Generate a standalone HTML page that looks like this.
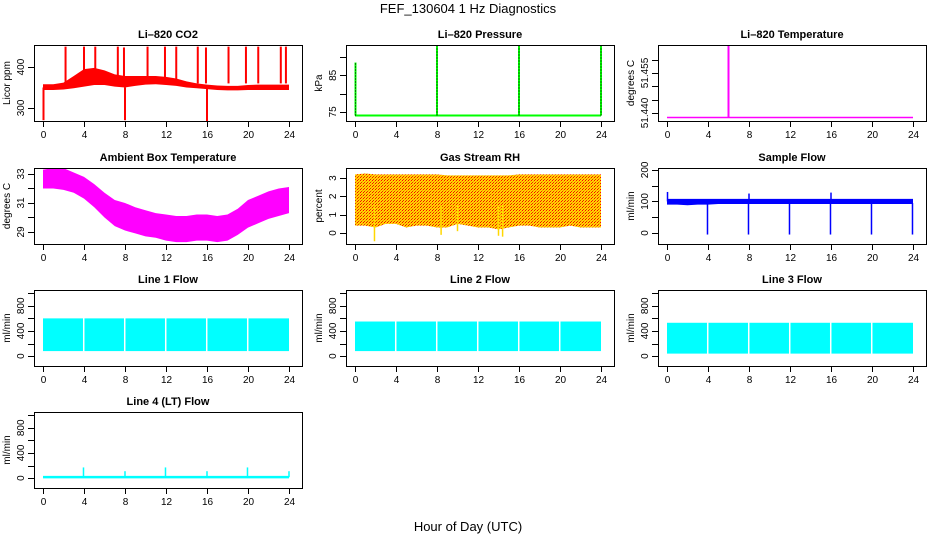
<!DOCTYPE html>
<html><head><meta charset="utf-8"><style>
html,body{margin:0;padding:0;background:#fff}
svg{display:block;font-family:"Liberation Sans",sans-serif}
</style></head><body>
<svg id="c" width="936" height="540" viewBox="0 0 936 540">
<defs>
<pattern id="rhpat" width="3" height="3" patternUnits="userSpaceOnUse"><rect width="3" height="3" fill="#ffd700"/><rect x="0" y="0" width="1" height="1" fill="#f00"/><rect x="2" y="1" width="1" height="1" fill="#ff8c00"/><rect x="1" y="2" width="1" height="1" fill="#e03000"/></pattern>
</defs>
<text x="468" y="13" text-anchor="middle" font-size="13">FEF_130604  1 Hz Diagnostics</text>
<text x="468" y="531" text-anchor="middle" font-size="13">Hour of Day (UTC)</text>
</svg>
<script>
const hours=[0,1,2,3,4,5,6,7,8,9,10,11,12,13,14,15,16,17,18,19,20,21,22,23,24];
const xTicks=[0,4,8,12,16,20,24];
// CO2
const co2Up=[358,358,362,378,395,398,392,382,378,378,378,378,376,372,365,360,357,355,354,354,356,357,357,357,357];
const co2Lo=[344,344,345,348,352,356,356,352,350,354,357,358,356,354,350,348,346,344,343,343,344,344,344,344,344];
const co2SpikeT=[2.2,4.0,5.1,7.3,7.9,10.2,11.9,13.0,15.1,15.9,18.1,19.8,21.0,23.2,23.7];
const co2SpikeV=[450,450,450,450,448,450,450,450,450,448,450,450,450,450,450];
const co2DipT=[0.05,8.0,16.0];
const co2DipV=[270,270,268];
// Pressure
const presBase=74.0;
const presSpikeT=[0.05,8.0,16.0,24.0];
const presSpikeV=[88.5,93,93,93];
// Li-820 temperature
const tempBase=51.4383;
const tempSpikeT=[6.0];
const tempSpikeV=[51.4655];
// Ambient
const ambUp=[33.3,33.4,33.4,33.1,32.8,32.3,31.7,31.2,31.0,30.7,30.5,30.3,30.2,30.1,30.1,30.2,30.2,30.1,30.2,30.6,31.2,31.5,31.8,32.0,32.1];
const ambLo=[32.0,32.0,31.9,31.7,31.3,30.7,30.0,29.4,29.1,28.9,28.7,28.6,28.4,28.3,28.3,28.4,28.4,28.3,28.4,28.8,29.3,29.6,29.9,30.1,30.3];
// RH
const rhUp=[3.2,3.25,3.2,3.2,3.2,3.2,3.2,3.2,3.2,3.15,3.15,3.15,3.15,3.15,3.15,3.15,3.2,3.2,3.2,3.2,3.2,3.2,3.2,3.2,3.2];
const rhLo=[0.4,0.4,0.3,0.5,0.5,0.3,0.4,0.4,0.3,0.3,0.5,0.4,0.3,0.3,0.2,0.3,0.4,0.4,0.3,0.3,0.3,0.4,0.3,0.3,0.3];
const rhDipT=[1.9,8.4,14.4,14.0,10.0];
const rhDipV=[-0.45,-0.1,-0.2,-0.15,0.1];
// Sample flow
const sfUp=[108,108,108,108,108,108,108,108,108,108,108,108,108,108,108,108,108,108,108,108,108,108,108,108,108];
const sfLo=[90,90,88,90,90,92,92,92,92,92,92,92,92,92,92,92,92,92,92,92,92,92,92,92,92];
const sfDipT=[3.95,7.95,11.95,15.95,19.95,23.95];
const sfDipV=[-5,-5,-5,-5,-5,-5];
const sfSpikeT=[0.05,8.0,16.0];
const sfSpikeV=[130,125,128];
// Line flows
const l1Up=600, l1Lo=80;
const l2Up=550, l2Lo=80;
const l3Up=530, l3Lo=40;
const lineGapT=[3.9,7.9,11.9,15.9,19.9];
const l4Base=15;
const l4SpikeT=[3.95,8.0,11.95,16.0,19.95,24.0];
const l4SpikeV=[170,110,170,110,170,110];

const svg=document.getElementById('c');
const NS='http://www.w3.org/2000/svg';
function mk(tag,attrs,parent){const e=document.createElementNS(NS,tag);for(const k in attrs)e.setAttribute(k,attrs[k]);(parent||svg).appendChild(e);return e;}
const colL=[34,346,658], rowT=[45,168,290,412], W=268, H=76;
function panel(name,col,row,title,ylab,ylim,yTicks,yLabels){
  const L=colL[col],T=rowT[row];
  const g=mk('g',{});
  
  
  const xs=v=>L+9+v/24*246;
  const ys=v=>T+H-(v-ylim[0])/(ylim[1]-ylim[0])*H;
  const t=mk('text',{x:L+W/2,y:T-7,'text-anchor':'middle','font-size':'11','font-weight':'bold'},g);t.textContent=title;
  
  
  const yl=mk('text',{transform:`translate(${L-24},${T+H/2}) rotate(-90)`,'text-anchor':'middle','font-size':'10'},g);yl.textContent=ylab;
  
  
  const ax=mk('g',{stroke:'#000','stroke-width':1},g);
  
  
  mk('line',{x1:xs(0),x2:xs(24),y1:T+H+0.5,y2:T+H+0.5},ax);
  xTicks.forEach(v=>{mk('line',{x1:xs(v)+0.5,x2:xs(v)+0.5,y1:T+H,y2:T+H+6},ax);
    const tx=mk('text',{x:xs(v)+0.5,y:T+H+17,'text-anchor':'middle','font-size':'10',stroke:'none'},g);tx.textContent=v;
    
    });
  yTicks.forEach(v=>{const y=Math.round(ys(v))+0.5;mk('line',{x1:L-6,x2:L,y1:y,y2:y},ax);});
  yLabels.forEach(v=>{const y=ys(v);const tx=mk('text',{transform:`translate(${L-10},${y}) rotate(-90)`,'text-anchor':'middle','font-size':'10'},g);tx.textContent=v;
    
    });
  const plot=mk('g',{},g);
  
  
  mk('rect',{x:L+0.5,y:T+0.5,width:W,height:H,fill:'none',stroke:'#000'},g);
  return {xs,ys,plot};
}
function band(p,up,lo,fill){
  let d='M'+hours.map((h,i)=>p.xs(h)+','+p.ys(up[i])).join('L')+'L'+hours.slice().reverse().map((h,i)=>p.xs(h)+','+p.ys(lo[hours.length-1-i])).join('L')+'Z';
  const e=mk('path',{d,fill,stroke:'none'},p.plot);
  
  
}
function rectBand(p,up,lo,fill,gaps){
  const e=mk('rect',{x:p.xs(0),y:p.ys(up),width:p.xs(24)-p.xs(0),height:p.ys(lo)-p.ys(up),fill},p.plot);
  
  
  (gaps||[]).forEach(t=>{mk('rect',{x:p.xs(t),y:p.ys(up)-2,width:1.5,height:p.ys(lo)-p.ys(up)+4,fill:'#fff'},p.plot);});
}
function spikes(p,T,V,base,col,w,dash){
  T.forEach((t,i)=>{const e=mk('line',{x1:p.xs(t),x2:p.xs(t),y1:p.ys(base),y2:p.ys(V[i]),stroke:col,'stroke-width':w||1.5},p.plot);
    if(dash)e.setAttribute('stroke-dasharray',dash);
    
    });
}
let p=panel('co2',0,0,'Li\u2013820 CO2','Licor ppm',[268,454],[300,400],[300,400]);
band(p,co2Up,co2Lo,'#f00');
spikes(p,co2SpikeT,co2SpikeV,360,'#f00',2);
spikes(p,co2DipT,co2DipV,350,'#f00',2);
p=panel('pressure',1,0,'Li\u2013820 Pressure','kPa',[72.5,93.3],[75,80,85,90],[75,85]);
mk('line',{x1:p.xs(0),x2:p.xs(24),y1:p.ys(presBase),y2:p.ys(presBase),stroke:'#0f0','stroke-width':2},p.plot);
spikes(p,presSpikeT,presSpikeV,presBase,'#0f0',2);
spikes(p,presSpikeT,presSpikeV,presBase,'#000',1,'1,2');
p=panel('li820-temp',2,0,'Li\u2013820 Temperature','degrees C',[51.437,51.4655],[51.440,51.445,51.450,51.455,51.460],['51.440','51.455']);
mk('line',{x1:p.xs(0),x2:p.xs(24),y1:p.ys(tempBase),y2:p.ys(tempBase),stroke:'#f0f','stroke-width':1.5},p.plot);
spikes(p,tempSpikeT,tempSpikeV,tempBase,'#f0f',2);
p=panel('ambient',0,1,'Ambient Box Temperature','degrees C',[28.17,33.41],[29,30,31,32,33],[29,31,33]);
band(p,ambUp,ambLo,'#f0f');
p=panel('rh',1,1,'Gas Stream RH','percent',[-0.6,3.55],[0,1,2,3],[0,1,2,3]);
band(p,rhUp,rhLo,'url(#rhpat)');
spikes(p,rhDipT,rhDipV,1.5,'#ffd700',1.5);
p=panel('sample-flow',2,1,'Sample Flow','ml/min',[-35,206],[0,50,100,150,200],[0,100,200]);
band(p,sfUp,sfLo,'#00f');
spikes(p,sfDipT,sfDipV,95,'#00f',1.5);
spikes(p,sfSpikeT,sfSpikeV,100,'#00f',1.5);
const lt=[0,200,400,600,800,1000], ll=[0,400,800], yl=[-157,1051];
p=panel('line1-flow',0,2,'Line 1 Flow','ml/min',yl,lt,ll); rectBand(p,l1Up,l1Lo,'#0ff',lineGapT);
p=panel('line2-flow',1,2,'Line 2 Flow','ml/min',yl,lt,ll); rectBand(p,l2Up,l2Lo,'#0ff',lineGapT);
p=panel('line3-flow',2,2,'Line 3 Flow','ml/min',yl,lt,ll); rectBand(p,l3Up,l3Lo,'#0ff',lineGapT);
p=panel('line4-flow',0,3,'Line 4 (LT) Flow','ml/min',yl,lt,ll);
mk('line',{x1:p.xs(0),x2:p.xs(24),y1:p.ys(l4Base),y2:p.ys(l4Base),stroke:'#0ff','stroke-width':2.5},p.plot);
spikes(p,l4SpikeT,l4SpikeV,l4Base,'#0ff',1.5);
</script>
</body></html>
